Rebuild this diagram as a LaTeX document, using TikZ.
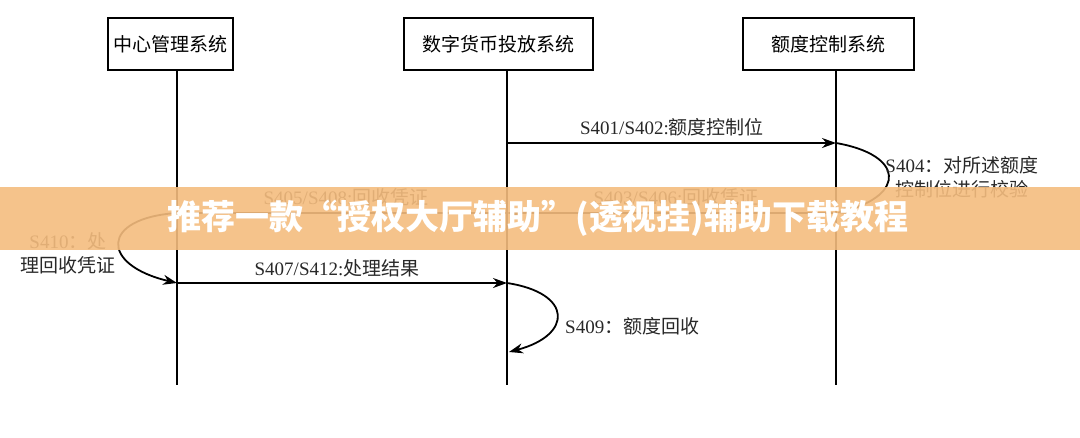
\documentclass[tikz,border=0pt]{standalone}
\usepackage{fontspec}
\setmainfont{Liberation Serif}
\newfontfamily\cjk{Noto Sans CJK SC}
\usetikzlibrary{arrows.meta}
\usetikzlibrary{calc}

\definecolor{bannerorange}{RGB}{244,188,126}
\definecolor{labelgray}{RGB}{40,40,40}

\tikzset{
  sysbox/.style={draw, line width=2pt, minimum width=125pt, minimum height=52pt, inner sep=0pt, font=\fontsize{19}{22}\selectfont\cjk},
  lifeline/.style={line width=2pt},
  msg/.style={line width=1.8pt, -{Stealth[length=14pt,width=10pt]}},
  msglabel/.style={text=labelgray, font=\fontsize{19}{22}\selectfont, inner sep=0pt},
}

\begin{document}
\begin{tikzpicture}[x=1pt, y=-1pt]
    \useasboundingbox (0,0) rectangle (1080,437);
    % system boxes
    \node [sysbox] (center) at (170.5,44) {中心管理系统};
    \node [sysbox, minimum width=189pt] (issue) at (498.5,44) {数字货币投放系统};
    \node [sysbox, minimum width=171pt] (quota) at (828.5,44) {额度控制系统};
    % lifelines
    \coordinate (centerend) at (177,385);
    \coordinate (issueend) at (507,385);
    \coordinate (quotaend) at (836,385);
    \draw [lifeline] (center.south -| centerend) -- (centerend);
    \draw [lifeline] (issue.south -| issueend) -- (issueend);
    \draw [lifeline] (quota.south -| quotaend) -- (quotaend);
    % quota control bit
    \coordinate (i1) at (507,143);
    \coordinate (q1) at (836,143);
    \draw [msg] (i1) -- (q1);
    \node [msglabel] (l401) at (672,127) {S401/S402:{\cjk 额度控制位}};
    % check
    \coordinate (q2) at (837,213);
    \draw [msg] (q1) .. controls (905,155) and (905,195) .. (q2);
    \node [msglabel, align=center] (l404) at (962,177) {S404{\cjk ：对所述额度}\\[2pt]{\cjk 控制位进行校验}};
    % vouchers back
    \coordinate (i2) at (507,213);
    \draw [msg] (q2) -- (i2);
    \node [msglabel] (l403) at (676,197) {S403/S406:{\cjk 回收凭证}};
    \coordinate (c1) at (177,213);
    \draw [msg] (i2) -- (c1);
    \node [msglabel] (l405) at (346,197) {S405/S408:{\cjk 回收凭证}};
    % process vouchers
    \coordinate (c2) at (177,283);
    \draw [msg] (c1) .. controls (100,218) and (100,265) .. (c2);
    \node [msglabel, align=center] (l410) at (68,253) {S410{\cjk ：处}\\[2pt]{\cjk 理回收凭证}};
    % result
    \coordinate (i3) at (507,283);
    \draw [msg] (c2) -- (i3);
    \node [msglabel] (l407) at (337,268) {S407/S412:{\cjk 处理结果}};
    % quota recovery
    \coordinate (i4) at (509,352);
    \draw [msg] (i3) .. controls (573,293) and (573,335) .. (i4);
    \node [msglabel, anchor=west] (l409) at (565,326) {S409{\cjk ：额度回收}};
    % banner
    \fill [bannerorange, opacity=0.9] (0,187) rectangle (1080,250);
    \node [text=white, font=\fontsize{34}{38}\selectfont\cjk\bfseries] (banner) at (538,218) {推荐一款“授权大厅辅助”(透视挂)辅助下载教程};
\end{tikzpicture}
\end{document}
